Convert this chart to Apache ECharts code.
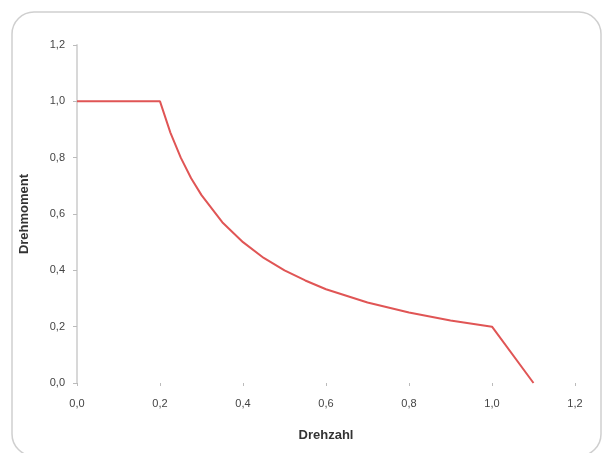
<!DOCTYPE html>
<html><head><meta charset="utf-8">
<script src="https://cdn.jsdelivr.net/npm/echarts@6/dist/echarts.min.js"></script>
<style>html,body{margin:0;padding:0;background:#fff}#c{width:607px;height:453px}</style>
</head><body><div id="c"></div>
<script>
const drehzahl = [0, 0.2, 0.225, 0.25, 0.275, 0.3, 0.35, 0.4, 0.45, 0.5, 0.55, 0.6, 0.7, 0.8, 0.9, 1.0, 1.1];
const drehmoment = [1, 1, 0.889, 0.8, 0.727, 0.667, 0.571, 0.5, 0.444, 0.4, 0.364, 0.333, 0.286, 0.25, 0.222, 0.2, 0];
const xTitle = 'Drehzahl';
const yTitle = 'Drehmoment';
const fmt = v => v.toFixed(1).replace('.', ',');
const chart = echarts.init(document.getElementById('c'), null, {renderer: 'canvas'});
chart.setOption({
  animation: false,
  backgroundColor: '#fff',
  graphic: [{type: 'rect', shape: {x: 12, y: 12, width: 589, height: 444, r: 22},
    style: {fill: 'none', stroke: '#cfcfcf', lineWidth: 1.5}, silent: true}],
  grid: {left: 77, right: 32, top: 45, bottom: 70},
  textStyle: {fontFamily: 'Liberation Sans'},
  xAxis: {
    type: 'value', min: 0, max: 1.2, interval: 0.2,
    name: xTitle, nameLocation: 'middle', nameGap: 46,
    nameTextStyle: {fontWeight: 'bold', fontSize: 13, color: '#333', fontFamily: 'Liberation Sans'},
    axisLine: {show: false},
    axisTick: {show: true, length: 3, lineStyle: {color: '#bbb'}},
    axisLabel: {formatter: fmt, fontSize: 11, color: '#444', margin: 15},
    splitLine: {show: false}
  },
  yAxis: {
    type: 'value', min: 0, max: 1.2, interval: 0.2,
    name: yTitle, nameLocation: 'middle', nameGap: 46, nameRotate: 90,
    nameTextStyle: {fontWeight: 'bold', fontSize: 13, color: '#333', fontFamily: 'Liberation Sans'},
    axisLine: {show: true, lineStyle: {color: '#d8d8d8', width: 2}},
    axisTick: {show: true, length: 4, lineStyle: {color: '#bbb'}},
    axisLabel: {formatter: fmt, fontSize: 11, color: '#444', margin: 12},
    splitLine: {show: false}
  },
  series: [{
    type: 'line',
    data: drehzahl.map((x, i) => [x, drehmoment[i]]),
    showSymbol: false, smooth: false,
    lineStyle: {color: '#e05555', width: 2}
  }]
});
</script></body></html>
